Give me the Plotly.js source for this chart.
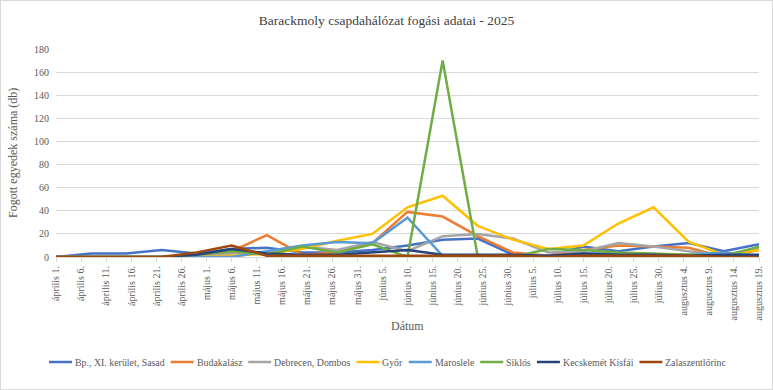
<!DOCTYPE html>
<html>
<head>
<meta charset="utf-8">
<script src="https://cdn.plot.ly/plotly-3.0.1.min.js"></script>
<style>
html,body{margin:0;padding:0;background:#fff;}
#chart{width:773px;height:390px;box-sizing:border-box;border:1px solid #d9d9d9;}
</style>
</head>
<body>
<div id="chart"></div>
<script>
// Weekly sampling dates
const dates = ['2025-04-01','2025-04-08','2025-04-15','2025-04-22','2025-04-29','2025-05-06','2025-05-13','2025-05-20','2025-05-27','2025-06-03','2025-06-10','2025-06-17','2025-06-24','2025-07-01','2025-07-08','2025-07-15','2025-07-22','2025-07-29','2025-08-05','2025-08-12','2025-08-19'];

// Series values (caught individuals)
const bpSasad      = [0,3,3,6,3,7,8,4,4,6,10,15,16,2,1,9,5,9,12,5,11];
const budakalasz   = [0,0,0,0,0,5,19,2,4,12,39,35,18,4,1,6,10,9,8,0,6];
const debrecen     = [0,0,0,0,0,3,4,9,6,13,5,18,20,16,4,5,12,9,5,2,7];
const gyor         = [0,0,0,0,0,1,3,7,14,20,43,53,27,15,7,10,29,43,13,2,6];
const maroslele    = [0,0,0,0,0,0,5,10,13,12,34,1,1,0,0,3,3,2,2,4,1];
const siklos       = [0,0,0,0,2,5,2,9,4,11,0,170,0,0,7,6,4,3,2,1,9];
const kecskemet    = [0,0,0,0,2,7,3,2,2,4,6,2,2,2,1,3,2,2,1,2,2];
const zalaszent    = [0,0,0,0,4,10,1,1,1,1,1,1,1,1,0,1,1,1,1,0,0];

const seriesNames = ['Bp., XI. kerület, Sasad','Budakalász','Debrecen, Dombos','Győr','Maroslele','Siklós','Kecskemét Kisfái','Zalaszentlőrinc'];
const seriesColors = ['#4472C4','#ED7D31','#A5A5A5','#FFC000','#5B9BD5','#70AD47','#264478','#9E480E'];
const seriesValues = [bpSasad,budakalasz,debrecen,gyor,maroslele,siklos,kecskemet,zalaszent];

// Axis tick dates and labels
const tickDates = ['2025-04-01','2025-04-06','2025-04-11','2025-04-16','2025-04-21','2025-04-26','2025-05-01','2025-05-06','2025-05-11','2025-05-16','2025-05-21','2025-05-26','2025-05-31','2025-06-05','2025-06-10','2025-06-15','2025-06-20','2025-06-25','2025-06-30','2025-07-05','2025-07-10','2025-07-15','2025-07-20','2025-07-25','2025-07-30','2025-08-04','2025-08-09','2025-08-14','2025-08-19'];
const tickLabels = ['április 1.','április 6.','április 11.','április 16.','április 21.','április 26.','május 1.','május 6.','május 11.','május 16.','május 21.','május 26.','május 31.','június 5.','június 10.','június 15.','június 20.','június 25.','június 30.','július 5.','július 10.','július 15.','július 20.','július 25.','július 30.','augusztus 4.','augusztus 9.','augusztus 14.','augusztus 19.'];

const titleText = 'Barackmoly csapdahálózat fogási adatai - 2025';
const xTitleText = 'Dátum';
const yTitleText = 'Fogott egyedek száma (db)';

const FONT = 'Liberation Serif, Times New Roman, serif';
const W = 771, H = 388;
const M = {l:55, r:13, t:48, b:132};
const PW = W - M.l - M.r, PH = H - M.t - M.b;

const traces = seriesValues.map((v,i)=>({
  type:'scatter', mode:'lines', name:seriesNames[i],
  x:dates, y:v,
  line:{color:seriesColors[i], width:2.5},
  showlegend:false
}));

// Excel-style legend row below the chart (compact line keys)
const legendFontSize = 9.9;
const ctx = document.createElement('canvas').getContext('2d');
ctx.font = legendFontSize + 'px "Liberation Serif"';
const legendY = (M.t + PH - 361) / PH; // paper y of legend row
const keyLen = 23, keyGap = 2, itemGap = 7;
let cursor = 48;
const shapes = [], annotations = [];
seriesNames.forEach((n,i)=>{
  shapes.push({type:'line', xref:'paper', yref:'paper',
    x0:(cursor - M.l)/PW, x1:(cursor + keyLen - M.l)/PW, y0:legendY, y1:legendY,
    line:{color:seriesColors[i], width:2.5}});
  annotations.push({xref:'paper', yref:'paper', x:(cursor + keyLen + keyGap - M.l)/PW, y:legendY,
    xanchor:'left', yanchor:'middle', showarrow:false, text:n, borderpad:0,
    font:{family:FONT, size:legendFontSize, color:'#595959'}});
  cursor += keyLen + keyGap + ctx.measureText(n).width + itemGap;
});

// Axis titles placed like the original
annotations.push({xref:'paper', yref:'paper', x:0.5, y:(M.t + PH - 325)/PH, xanchor:'center', yanchor:'middle',
  showarrow:false, text:xTitleText, font:{family:FONT,size:12,color:'#595959'}});
annotations.push({xref:'paper', yref:'paper', x:(12 - M.l)/PW, y:0.5, xanchor:'center', yanchor:'middle',
  textangle:-90, showarrow:false, text:yTitleText, font:{family:FONT,size:12,color:'#595959'}});

const layout = {
  width:W, height:H,
  margin:M,
  paper_bgcolor:'#fff', plot_bgcolor:'#fff',
  font:{family:FONT, size:10, color:'#595959'},
  title:{text:titleText, font:{family:FONT,size:13.5,color:'#404040'}, x:0.5, xanchor:'center', y:0.951, yanchor:'middle'},
  showlegend:false,
  shapes:shapes,
  annotations:annotations,
  xaxis:{
    type:'date', range:['2025-04-01','2025-08-19'],
    tickmode:'array', tickvals:tickDates, ticktext:tickLabels, tickangle:-90,
    tickfont:{family:FONT,size:10,color:'#595959'},
    showgrid:false, showline:true, linecolor:'#d9d9d9', linewidth:1,
    ticks:'outside', ticklen:4, tickcolor:'#d9d9d9',
    zeroline:false, fixedrange:true, automargin:false
  },
  yaxis:{
    range:[0,180], dtick:20, tick0:0,
    tickfont:{family:FONT,size:10,color:'#595959'},
    showgrid:true, gridcolor:'#d9d9d9', gridwidth:1,
    showline:false, zeroline:false, ticks:'', ticklabelstandoff:6,
    fixedrange:true, automargin:false
  }
};

Plotly.newPlot('chart', traces, layout, {displayModeBar:false, staticPlot:true});
</script>
</body>
</html>
